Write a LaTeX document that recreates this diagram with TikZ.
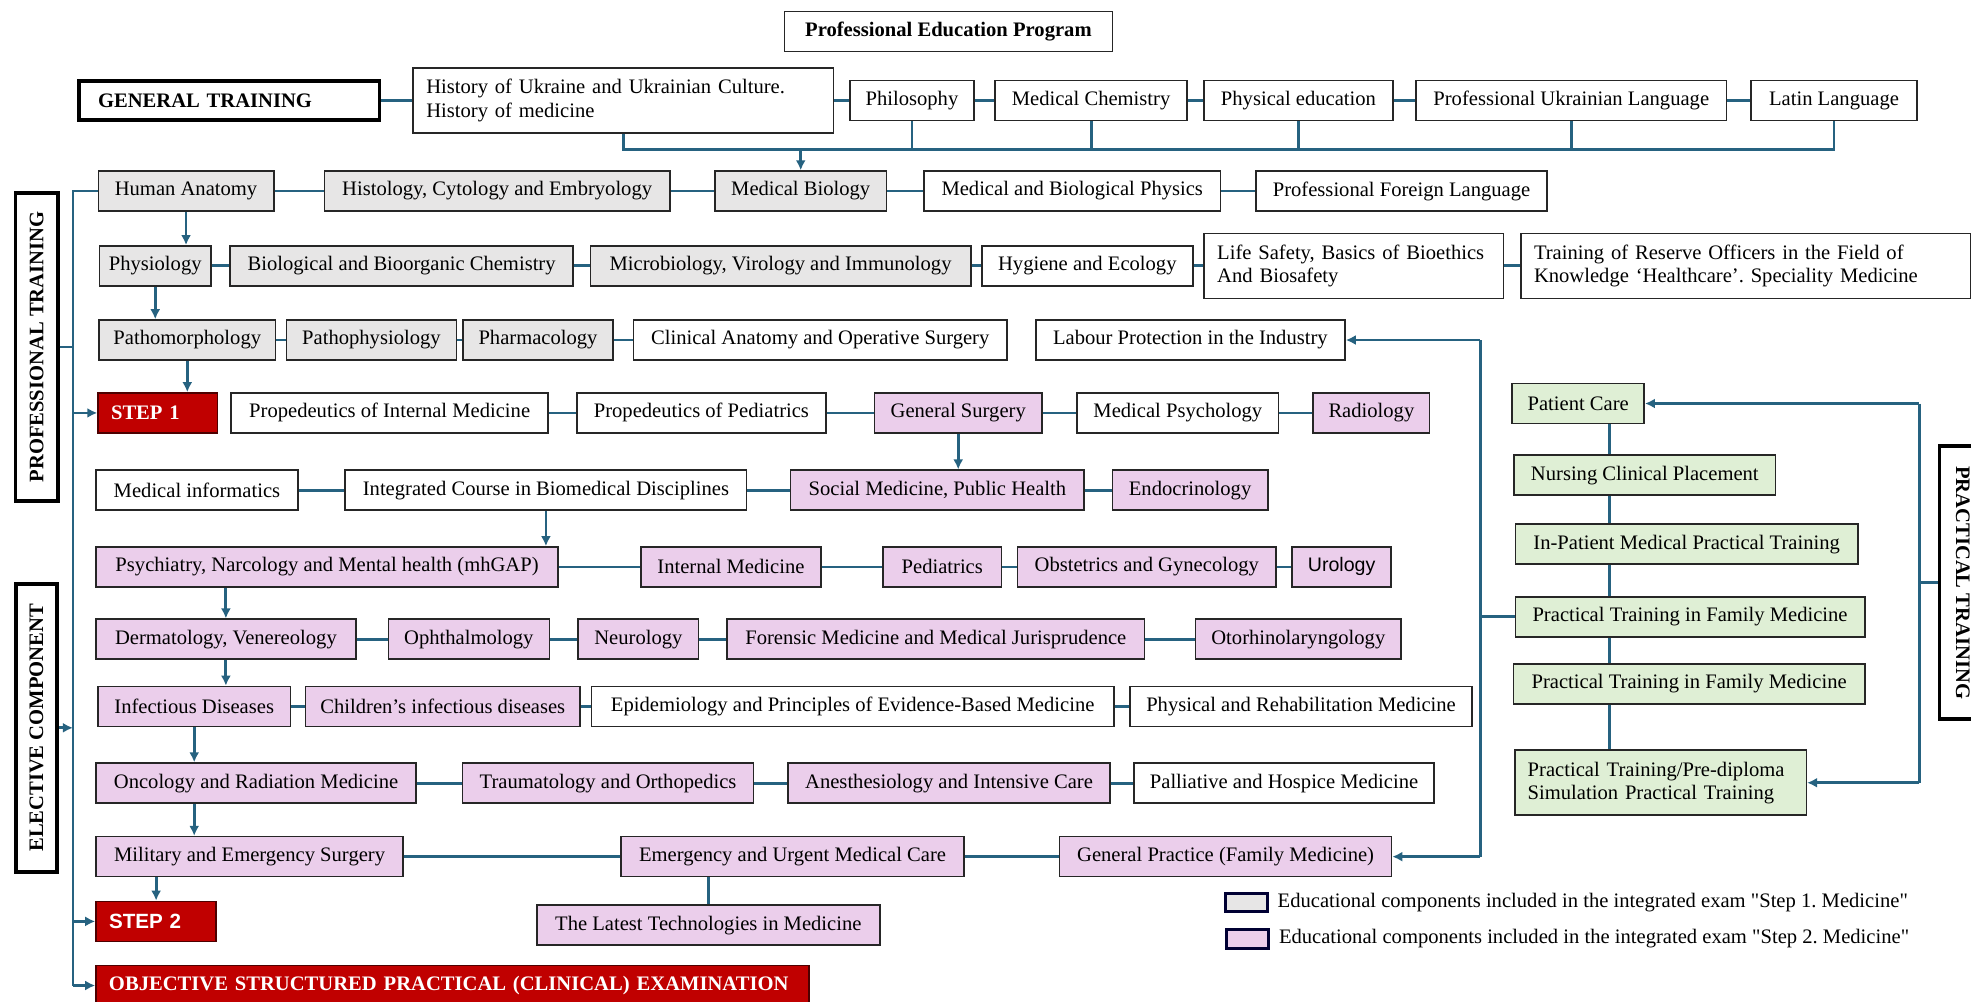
\documentclass[tikz,border=0pt]{standalone}
\usepackage{fontspec}
\setmainfont{Liberation Serif}[Ligatures=TeXOff]
\newfontfamily\sansfont{Liberation Sans}
\usepackage{tikz}
\usetikzlibrary{positioning}
\usetikzlibrary{arrows.meta}
\definecolor{boxgray}{RGB}{231,230,230}
\definecolor{boxpink}{RGB}{235,206,235}
\definecolor{boxgreen}{RGB}{223,239,213}
\definecolor{stepred}{RGB}{192,0,0}
\definecolor{linkblue}{RGB}{38,98,128}
\frenchspacing
\tikzset{
    wd/.style = {minimum width=#1*0.6285pt},
    ht/.style = {minimum height=#1*0.6285pt},
    box/.style = {rectangle, draw=black!85, line width=0.8pt, fill=white, minimum height=20pt, inner xsep=3pt, inner ysep=2pt, font=\fontsize{10.3}{11.6}\selectfont},
    boxg/.style = {box, fill=boxgray},
    boxp/.style = {box, fill=boxpink},
    boxt/.style = {box, fill=boxgreen},
    boxl/.style = {box, align=left, inner xsep=6.5pt, minimum height=32.5pt},
    boxr/.style = {box, fill=stepred, draw=black!60!stepred, text=white, align=left, inner xsep=6.5pt, font=\fontsize{10.3}{11.6}\selectfont\bfseries},
    lab/.style = {rectangle, draw=black, line width=1.8pt, fill=white, inner sep=2pt, font=\fontsize{10.3}{11.6}\selectfont\bfseries},
    legbox/.style = {rectangle, draw=black!80!blue, line width=1.5pt, minimum width=20.7pt, minimum height=9.4pt, inner sep=0pt},
    edgel/.style = {draw=linkblue, line width=1.4pt},
    edgea/.style = {-{Latex[length=5pt,width=5pt]}, draw=linkblue, line width=1.4pt}
}
\begin{document}
\frenchspacing
\begin{tikzpicture}[x=0.6285pt, y=-0.6285pt]
\useasboundingbox (0,0) rectangle (1568,797);
%
\node[box, wd=261, font=\fontsize{10.3}{11.6}\selectfont\bfseries] at (754.5, 25) (pep) {Professional Education Program};
%
\node[lab, align=left, text width=131.4pt, inner xsep=9.4pt, ht=31] at (182.5, 80) (gen) {GENERAL TRAINING};
\node[boxl, text width=197.2pt] at (496, 80) (hist) {History of Ukraine and Ukrainian Culture.\\History of medicine};
\node[box, wd=99] at (725.5, 80) (phil) {Philosophy};
\node[box, wd=153] at (868, 80) (mchem) {Medical Chemistry};
\node[box, wd=150] at (1033, 80) (pe) {Physical education};
\node[box, wd=247] at (1250, 80) (pul) {Professional Ukrainian Language};
\node[box, wd=132] at (1459, 80) (lat) {Latin Language};
%
\node[boxg, wd=139.5] at (148, 152) (hanat) {Human Anatomy};
\node[boxg, wd=275] at (395.5, 152) (histo) {Histology, Cytology and Embryology};
\node[boxg, wd=136.5] at (637, 152) (mbio) {Medical Biology};
\node[box, wd=236] at (853, 152) (mbp) {Medical and Biological Physics};
\node[box, wd=231.5] at (1115, 152) (pfl) {Professional Foreign Language};
%
\node[boxg, wd=89] at (123.5, 211.5) (physio) {Physiology};
\node[boxg, wd=273] at (319.5, 211.5) (bbc) {Biological and Bioorganic Chemistry};
\node[boxg, wd=302.5] at (621, 211.5) (micro) {Microbiology, Virology and Immunology};
\node[box, wd=168] at (865, 211.5) (hyg) {Hygiene and Ecology};
\node[boxl, text width=136.6pt] at (1077, 211.5) (life) {Life Safety, Basics of Bioethics\\And Biosafety};
\node[boxl, text width=212pt] at (1389, 211.5) (reserve) {Training of Reserve Officers in the Field of\\Knowledge ‘Healthcare’. Speciality Medicine};
%
\node[boxg, wd=140.5] at (149, 270.5) (pmorph) {Pathomorphology};
\node[boxg, wd=135] at (295.5, 270.5) (pphys) {Pathophysiology};
\node[boxg, wd=119.5] at (428, 270.5) (pharm) {Pharmacology};
\node[box, wd=297] at (652.5, 270.5) (clin) {Clinical Anatomy and Operative Surgery};
\node[box, wd=246] at (947, 270.5) (labour) {Labour Protection in the Industry};
%
\node[boxr, text width=46.7pt] at (125.5, 328.5) (step1) {STEP 1};
\node[box, wd=252] at (310, 328.5) (propim) {Propedeutics of Internal Medicine};
\node[box, wd=198] at (558, 328.5) (propped) {Propedeutics of Pediatrics};
\node[boxp, wd=133.4] at (762.3, 328.5) (gsurg) {General Surgery};
\node[box, wd=160] at (937, 328.5) (mpsych) {Medical Psychology};
\node[boxp, wd=92.5] at (1091, 328.5) (radio) {Radiology};
%
\node[box, wd=160.6] at (156.7, 390) (minf) {Medical informatics};
\node[box, wd=319.4] at (434.3, 390) (icbd) {Integrated Course in Biomedical Disciplines};
\node[boxp, wd=233.5] at (745.75, 390) (socmed) {Social Medicine, Public Health};
\node[boxp, wd=123.5] at (946.75, 390) (endo) {Endocrinology};
%
\node[boxp, wd=367.6] at (260.2, 451) (psych) {Psychiatry, Narcology and Mental health (mhGAP)};
\node[boxp, wd=143] at (581.5, 451) (intmed) {Internal Medicine};
\node[boxp, wd=94] at (749.6, 451) (ped) {Pediatrics};
\node[boxp, wd=205.4] at (912.3, 451) (obgyn) {Obstetrics and Gynecology};
\node[boxp, wd=78.7, font=\fontsize{9.8}{11.6}\selectfont\sansfont] at (1067.35, 451) (uro) {Urology};
%
\node[boxp, wd=206.6] at (179.7, 508.5) (derm) {Dermatology, Venereology};
\node[boxp, wd=128] at (373, 508.5) (ophth) {Ophthalmology};
\node[boxp, wd=95.7] at (507.85, 508.5) (neuro) {Neurology};
\node[boxp, wd=332] at (744.5, 508.5) (foren) {Forensic Medicine and Medical Jurisprudence};
\node[boxp, wd=163.7] at (1032.85, 508.5) (oto) {Otorhinolaryngology};
%
\node[boxp, wd=153] at (154.5, 562) (infect) {Infectious Diseases};
\node[boxp, wd=218.5] at (352.25, 562) (chinf) {Children’s infectious diseases};
\node[box, wd=415.3] at (678.35, 562) (epid) {Epidemiology and Principles of Evidence-Based Medicine};
\node[box, wd=272] at (1035, 562) (physreh) {Physical and Rehabilitation Medicine};
%
\node[boxp, wd=254.6] at (203.7, 623) (onco) {Oncology and Radiation Medicine};
\node[boxp, wd=231.5] at (483.75, 623) (trauma) {Traumatology and Orthopedics};
\node[boxp, wd=256] at (755, 623) (anest) {Anesthesiology and Intensive Care};
\node[box, wd=239] at (1021.5, 623) (pall) {Palliative and Hospice Medicine};
%
\node[boxp, wd=244.3] at (198.55, 681.5) (milit) {Military and Emergency Surgery};
\node[boxp, wd=273] at (630.5, 681.5) (emerg) {Emergency and Urgent Medical Care};
\node[boxp, wd=264] at (975, 681.5) (gp) {General Practice (Family Medicine)};
%
\node[boxr, text width=47.1pt, font=\fontsize{10.3}{11.6}\selectfont\sansfont\bfseries] at (124.2, 733) (step2) {STEP 2};
\node[boxp, wd=273, ht=32] at (563.5, 736) (latest) {The Latest Technologies in Medicine};
\node[boxr, text width=343.4pt, ht=32] at (359.9, 784) (osce) {OBJECTIVE STRUCTURED PRACTICAL (CLINICAL) EXAMINATION};
%
\node[boxt, wd=105] at (1255.5, 321) (pcare) {Patient Care};
\node[boxt, wd=208] at (1308.5, 378) (nursing) {Nursing Clinical Placement};
\node[boxt, wd=272.4] at (1341.8, 433) (inpat) {In-Patient Medical Practical Training};
\node[boxt, wd=278] at (1344.5, 490.7) (ptfm1) {Practical Training in Family Medicine};
\node[boxt, wd=279.5] at (1343.75, 544) (ptfm2) {Practical Training in Family Medicine};
\node[boxl, fill=boxgreen, text width=132.8pt] at (1321, 622.7) (predip) {Practical Training/Pre-diploma\\Simulation Practical Training};
%
\node[lab, rotate=90, wd=245, ht=33.6] at (29.2, 276) (proflab) {PROFESSIONAL TRAINING};
\node[lab, rotate=90, wd=229, ht=33] at (29, 579) (eleclab) {ELECTIVE COMPONENT};
\node[lab, rotate=-90, wd=217, ht=37] at (1561.5, 463.5) (praclab) {PRACTICAL TRAINING};
%
\node[legbox, fill=boxgray] at (991.5, 718) (leg1) {};
\node[right=4.4pt of leg1, inner sep=0pt, font=\fontsize{10.3}{11.6}\selectfont] (leg1t) {Educational components included in the integrated exam "Step 1. Medicine"};
\node[legbox, fill=boxpink] at (992.5, 747) (leg2) {};
\node[right=4.4pt of leg2, inner sep=0pt, font=\fontsize{10.3}{11.6}\selectfont] (leg2t) {Educational components included in the integrated exam "Step 2. Medicine"};
%
\coordinate (bus) at (0, 119);
\coordinate (lv) at (58, 0);
\coordinate (rv) at (1177.5, 0);
\coordinate (gv) at (1280.6, 0);
\coordinate (pv) at (1527, 0);
%
\draw[edgel] (gen) -- (hist);
\draw[edgel] (hist) -- (phil);
\draw[edgel] (phil) -- (mchem);
\draw[edgel] (mchem) -- (pe);
\draw[edgel] (pe) -- (pul);
\draw[edgel] (pul) -- (lat);
\draw[edgel] (hist.south) -- (hist.south |- bus) -- (lat.south |- bus) -- (lat.south);
\draw[edgel] (phil.south) -- (phil.south |- bus);
\draw[edgel] (mchem.south) -- (mchem.south |- bus);
\draw[edgel] (pe.south) -- (pe.south |- bus);
\draw[edgel] (pul.south) -- (pul.south |- bus);
\draw[edgea] (mbio.north |- bus) -- (mbio.north);
%
\draw[edgel] (hanat) -- (histo);
\draw[edgel] (histo) -- (mbio);
\draw[edgel] (mbio) -- (mbp);
\draw[edgel] (mbp) -- (pfl);
\draw[edgel] (physio) -- (bbc);
\draw[edgel] (bbc) -- (micro);
\draw[edgel] (micro) -- (hyg);
\draw[edgel] (hyg) -- (life);
\draw[edgel] (life) -- (reserve);
\draw[edgel] (pmorph) -- (pphys);
\draw[edgel] (pphys) -- (pharm);
\draw[edgel] (pharm) -- (clin);
\draw[edgel] (propim) -- (propped);
\draw[edgel] (propped) -- (gsurg);
\draw[edgel] (gsurg) -- (mpsych);
\draw[edgel] (mpsych) -- (radio);
\draw[edgel] (minf) -- (icbd);
\draw[edgel] (icbd) -- (socmed);
\draw[edgel] (socmed) -- (endo);
\draw[edgel] (psych) -- (intmed);
\draw[edgel] (intmed) -- (ped);
\draw[edgel] (ped) -- (obgyn);
\draw[edgel] (obgyn) -- (uro);
\draw[edgel] (derm) -- (ophth);
\draw[edgel] (ophth) -- (neuro);
\draw[edgel] (neuro) -- (foren);
\draw[edgel] (foren) -- (oto);
\draw[edgel] (infect) -- (chinf);
\draw[edgel] (chinf) -- (epid);
\draw[edgel] (epid) -- (physreh);
\draw[edgel] (onco) -- (trauma);
\draw[edgel] (trauma) -- (anest);
\draw[edgel] (anest) -- (pall);
\draw[edgel] (milit) -- (emerg);
\draw[edgel] (emerg) -- (gp);
%
\draw[edgea] (hanat.south) -- (hanat.south |- physio.north);
\draw[edgea] (physio.south) -- (physio.south |- pmorph.north);
\draw[edgea] (pmorph.south) -- (pmorph.south |- step1.north);
\draw[edgea] (gsurg.south) -- (gsurg.south |- socmed.north);
\draw[edgea] (icbd.south) -- (icbd.south |- psych.north);
\draw[edgea] (derm.north |- psych.south) -- (derm.north);
\draw[edgea] (derm.south) -- (derm.south |- infect.north);
\draw[edgea] (infect.south) -- (infect.south |- onco.north);
\draw[edgea] (infect.south |- onco.south) -- (infect.south |- milit.north);
\draw[edgea] (step2.north |- milit.south) -- (step2.north);
\draw[edgel] (latest.north) -- (latest.north |- emerg.south);
%
\draw[edgel] (hanat.west) -- (hanat.west -| lv) -- (osce.west -| lv);
\draw[edgea] (osce.west -| lv) -- (osce.west);
\draw[edgea] (step1.west -| lv) -- (step1.west);
\draw[edgea] (step2.west -| lv) -- (step2.west);
\draw[edgel] (proflab.south) -- (proflab.south -| lv);
\draw[edgea] (eleclab.south) -- (eleclab.south -| lv);
%
\draw[edgel] (labour.east -| rv) -- (gp.east -| rv);
\draw[edgea] (labour.east -| rv) -- (labour.east);
\draw[edgea] (gp.east -| rv) -- (gp.east);
\draw[edgel] (ptfm1.west) -- (ptfm1.west -| rv);
%
\draw[edgel] (pcare.south -| gv) -- (nursing.north -| gv);
\draw[edgel] (nursing.south -| gv) -- (inpat.north -| gv);
\draw[edgel] (inpat.south -| gv) -- (ptfm1.north -| gv);
\draw[edgel] (ptfm1.south -| gv) -- (ptfm2.north -| gv);
\draw[edgel] (ptfm2.south -| gv) -- (predip.north -| gv);
%
\draw[edgel] (praclab.south) -- (praclab.south -| pv);
\draw[edgel] (pcare.east -| pv) -- (predip.east -| pv);
\draw[edgea] (pcare.east -| pv) -- (pcare.east);
\draw[edgea] (predip.east -| pv) -- (predip.east);

\end{tikzpicture}
\end{document}
